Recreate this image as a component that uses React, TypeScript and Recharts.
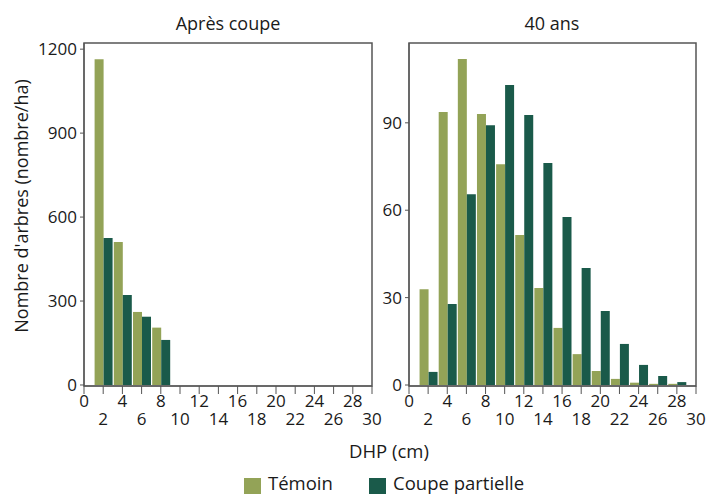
import React from 'react';
import { BarChart, Bar, XAxis, YAxis, ReferenceArea } from 'recharts';

// DHP classes (cm), centre of each 2 cm class
const dhpClasses = [2, 4, 6, 8, 10, 12, 14, 16, 18, 20, 22, 24, 26, 28];

// Après coupe (nombre/ha)
const temoinApres = [1164, 511, 261, 205, 0, 0, 0, 0, 0, 0, 0, 0, 0, 0];
const coupeApres = [525, 322, 244, 161, 0, 0, 0, 0, 0, 0, 0, 0, 0, 0];

// 40 ans (nombre/ha)
const temoin40 = [32.9, 93.7, 111.9, 93, 75.8, 51.5, 33.3, 19.6, 10.6, 4.8, 2.1, 0.8, 0.4, 0.4];
const coupe40 = [4.5, 27.8, 65.5, 89.2, 103, 92.7, 76.2, 57.7, 40.2, 25.4, 14.1, 6.9, 3.1, 1.0];

const xTicks = [0, 2, 4, 6, 8, 10, 12, 14, 16, 18, 20, 22, 24, 26, 28, 30];
const yTicksApres = [0, 300, 600, 900, 1200];
const yTicks40 = [0, 30, 60, 90];

const OLIVE = '#93a357';
const DARK = '#1a5a4a';
const AXIS = '#555555';
const TEXT = '#1a1a1a';
const FONT = '"Open Sans", sans-serif';

const apresData = dhpClasses.map((d, i) => ({ dhp: d, temoin: temoinApres[i], coupe: coupeApres[i] }));
const ansData = dhpClasses.map((d, i) => ({ dhp: d, temoin: temoin40[i], coupe: coupe40[i] }));

const StaggerTick = (props: any) => {
  const { x, y, payload } = props;
  const low = (payload.value / 2) % 2 === 1;
  return (
    <text x={x} y={y + (low ? 29 : 11)} textAnchor="middle" fontSize={17} fill={TEXT} fontFamily={FONT}>
      {payload.value}
    </text>
  );
};

interface PanelProps {
  data: any[];
  yDomain: [number, number];
  yTicks: number[];
  width: number;
  yAxisWidth: number;
  marginRight: number;
}

const Panel: React.FC<PanelProps> = ({ data, yDomain, yTicks, width, yAxisWidth, marginRight }) => (
  <BarChart
    width={width}
    height={496}
    data={data}
    margin={{ top: 43, right: marginRight, bottom: 60, left: 0 }}
    barGap={0}
    barSize={9}
  >
    <XAxis
      dataKey="dhp"
      type="number"
      domain={[0, 30]}
      ticks={xTicks}
      interval={0}
      allowDataOverflow
      height={50}
      tickSize={8}
      stroke={AXIS}
      tick={<StaggerTick />}
    />
    <YAxis
      type="number"
      domain={yDomain}
      ticks={yTicks}
      allowDataOverflow
      width={yAxisWidth}
      tickSize={4}
      tickMargin={3}
      stroke={AXIS}
      tick={{ fontSize: 17, fill: TEXT, fontFamily: FONT }}
    />
    <ReferenceArea x1={0} x2={30} y1={yDomain[0]} y2={yDomain[1]} fill="none" stroke={AXIS} strokeWidth={1.5} />
    <Bar dataKey="temoin" fill={OLIVE} isAnimationActive={false} />
    <Bar dataKey="coupe" fill={DARK} isAnimationActive={false} />
  </BarChart>
);

export default function App() {
  return (
    <div style={{ position: 'absolute', left: 0, top: 0, width: 707, height: 496, background: '#fff' }}>
      <div style={{ position: 'absolute', left: 0, top: 0 }}>
        <Panel data={apresData} yDomain={[-3.6, 1222]} yTicks={yTicksApres} width={400} yAxisWidth={84} marginRight={28} />
      </div>
      <div style={{ position: 'absolute', left: 380, top: 0 }}>
        <Panel data={ansData} yDomain={[-0.34, 117.4]} yTicks={yTicks40} width={327} yAxisWidth={29} marginRight={11} />
      </div>
      <svg width={707} height={496} style={{ position: 'absolute', left: 0, top: 0, pointerEvents: 'none' }}>
        <g fontFamily={FONT} fill={TEXT}>
          <text x={228} y={30} textAnchor="middle" fontSize={18}>Après coupe</text>
          <text x={552} y={30} textAnchor="middle" fontSize={18}>40 ans</text>
          <text x={28} y={206} textAnchor="middle" fontSize={18} transform="rotate(-90, 28, 206)">
            Nombre d'arbres (nombre/ha)
          </text>
          <text x={389} y={458} textAnchor="middle" fontSize={18.5}>DHP (cm)</text>
          <rect x={244} y={478} width={17} height={16} fill={OLIVE} />
          <text x={268} y={490} fontSize={18.5}>Témoin</text>
          <rect x={369} y={478} width={17} height={16} fill={DARK} />
          <text x={393} y={490} fontSize={18.5}>Coupe partielle</text>
        </g>
      </svg>
    </div>
  );
}
